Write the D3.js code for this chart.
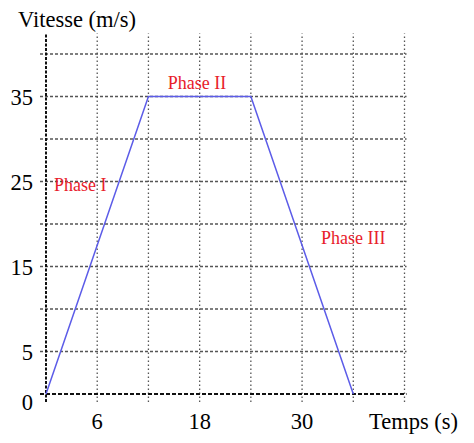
<!DOCTYPE html>
<html>
<head>
<meta charset="utf-8">
<script src="https://cdn.jsdelivr.net/npm/d3@7"></script>
<style>
  body { margin: 0; background: #fff; }
  text { font-family: "Liberation Serif", "DejaVu Serif", serif; }
  .tick-label { font-size: 22.5px; fill: #000; }
  .phase { font-size: 18px; fill: #e8202a; }
</style>
</head>
<body>
<div id="chart"></div>
<script>
// speed profile (time in s, speed in m/s)
var times = [0, 12, 24, 36];
var speeds = [0, 35, 35, 0];

var xTickLabels = [6, 18, 30];
var yTickLabels = [0, 5, 15, 25, 35];
var xGridValues = [6, 12, 18, 24, 30, 36, 42];
var yGridValues = [5, 10, 15, 20, 25, 30, 35, 40];

var phaseNames = ["Phase I", "Phase II", "Phase III"];
var phaseTimes = [4, 17.7, 36];
var phaseSpeeds = [24.5, 36.5, 18.2];

var width = 474, height = 443;
var svg = d3.select("#chart").append("svg")
    .attr("width", width)
    .attr("height", height);

var x = d3.scaleLinear().domain([0, 42]).range([46, 404.5]);
var y = d3.scaleLinear().domain([0, 42.4]).range([394, 33.6]);

//grid: horizontal dashed, vertical dotted
svg.append("g").selectAll("line")
    .data(yGridValues)
    .enter().append("line")
    .attr("x1", x(0) - 6).attr("x2", x(42) + 2)
    .attr("y1", function(d) { return y(d); })
    .attr("y2", function(d) { return y(d); })
    .attr("stroke", "#555")
    .attr("stroke-width", 1.3)
    .attr("stroke-dasharray", "3,2");

svg.append("g").selectAll("line")
    .data(xGridValues)
    .enter().append("line")
    .attr("x1", function(d) { return x(d); })
    .attr("x2", function(d) { return x(d); })
    .attr("y1", y(0) + 8).attr("y2", y(42.4))
    .attr("stroke", "#555")
    .attr("stroke-width", 1.3)
    .attr("stroke-dasharray", "1.5,2.5");

//axes
svg.append("line")
    .attr("x1", x(0)).attr("x2", x(0))
    .attr("y1", y(0) + 8).attr("y2", y(42.4))
    .attr("stroke", "#111")
    .attr("stroke-width", 2)
    .attr("stroke-dasharray", "3,1.5");
svg.append("line")
    .attr("x1", x(0) - 6).attr("x2", x(42) + 2)
    .attr("y1", y(0)).attr("y2", y(0))
    .attr("stroke", "#111")
    .attr("stroke-width", 2)
    .attr("stroke-dasharray", "4,2");

//tick labels
svg.append("g").selectAll("text")
    .data(xTickLabels)
    .enter().append("text")
    .attr("class", "tick-label")
    .attr("x", function(d) { return x(d); })
    .attr("y", y(0) + 35)
    .attr("text-anchor", "middle")
    .text(function(d) { return d; });

svg.append("g").selectAll("text")
    .data(yTickLabels)
    .enter().append("text")
    .attr("class", "tick-label")
    .attr("x", 33)
    .attr("y", function(d) { return d == 0 ? y(d) + 16 : y(d) + 8; })
    .attr("text-anchor", "end")
    .text(function(d) { return d; });

//axis titles
svg.append("text")
    .attr("class", "tick-label")
    .attr("x", 18).attr("y", 27)
    .text("Vitesse (m/s)");
svg.append("text")
    .attr("class", "tick-label")
    .attr("x", 369).attr("y", y(0) + 35)
    .text("Temps (s)");

//speed line
var line = d3.line()
    .x(function(d, i) { return x(times[i]); })
    .y(function(d) { return y(d); });
svg.append("path")
    .datum(speeds)
    .attr("d", line)
    .attr("fill", "none")
    .attr("stroke", "#5c5ce8")
    .attr("stroke-width", 1.5);

//phase labels
svg.append("g").selectAll("text")
    .data(phaseNames)
    .enter().append("text")
    .attr("class", "phase")
    .attr("x", function(d, i) { return x(phaseTimes[i]); })
    .attr("y", function(d, i) { return y(phaseSpeeds[i]) + 5; })
    .attr("text-anchor", "middle")
    .text(function(d) { return d; });
</script>
</body>
</html>
